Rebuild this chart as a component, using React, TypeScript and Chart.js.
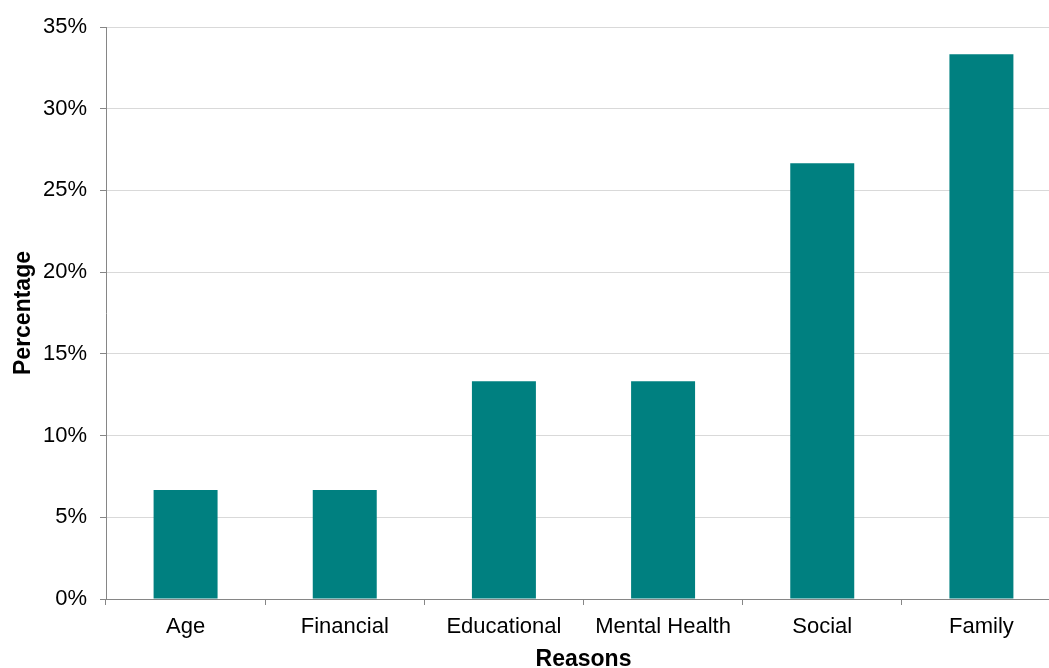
import React, { useEffect, useRef } from "react";
import { Chart, registerables } from "chart.js";

Chart.register(...registerables);

const categories = ["Age", "Financial", "Educational", "Mental Health", "Social", "Family"];
const percentages = [6.67, 6.67, 13.33, 13.33, 26.67, 33.33];
const yTicks = [0, 5, 10, 15, 20, 25, 30, 35];

export default function App() {
  const ref = useRef<HTMLCanvasElement>(null);
  useEffect(() => {
    document.body.style.margin = "0";
    const chart = new Chart(ref.current!, {
      type: "bar",
      data: {
        labels: categories,
        datasets: [
          {
            data: percentages,
            backgroundColor: "#008080",
            borderWidth: 0,
            categoryPercentage: 1,
            barPercentage: 0.402,
          },
        ],
      },
      options: {
        animation: false,
        responsive: false,
        maintainAspectRatio: false,
        layout: { padding: { top: 27, right: 0, left: 0, bottom: 0 } },
        plugins: { legend: { display: false }, tooltip: { enabled: false } },
        scales: {
          x: {
            grid: { drawOnChartArea: false, drawTicks: true, tickLength: 6, tickColor: "#868686", offset: true },
            border: { color: "#868686", width: 1 },
            ticks: { color: "#000", font: { family: "'Liberation Sans', Arial, sans-serif", size: 22 }, padding: 9, maxRotation: 0, autoSkip: false },
            title: {
              display: true,
              text: "Reasons",
              color: "#000",
              font: { family: "'Liberation Sans', Arial, sans-serif", size: 23, weight: "bold", lineHeight: 0.7 },
              padding: 0,
            },
            afterFit: (s: any) => { s.height = 69; },
          },
          y: {
            min: 0,
            max: 35,
            afterBuildTicks: (s: any) => { s.ticks = yTicks.map((v) => ({ value: v })); },
            grid: { color: "#d9d9d9", lineWidth: 1, tickLength: 6, tickColor: "#868686" },
            border: { color: "#868686", width: 1 },
            ticks: {
              color: "#000",
              font: { family: "'Liberation Sans', Arial, sans-serif", size: 22 },
              padding: 13,
              callback: (v: any) => v + "%",
            },
            title: {
              display: true,
              text: "Percentage",
              color: "#000",
              font: { family: "'Liberation Sans', Arial, sans-serif", size: 23, weight: "bold", lineHeight: 1 },
              padding: { top: 12, bottom: 0 },
            },
            afterFit: (s: any) => { s.width = 106; },
          },
        },
      },
    });
    return () => chart.destroy();
  }, []);
  return (
    <div style={{ position: "fixed", left: 0, top: 0, width: 1049, height: 668, overflow: "hidden" }}>
      <canvas ref={ref} width={1061} height={668} style={{ width: 1061, height: 668, display: "block" }} />
    </div>
  );
}
